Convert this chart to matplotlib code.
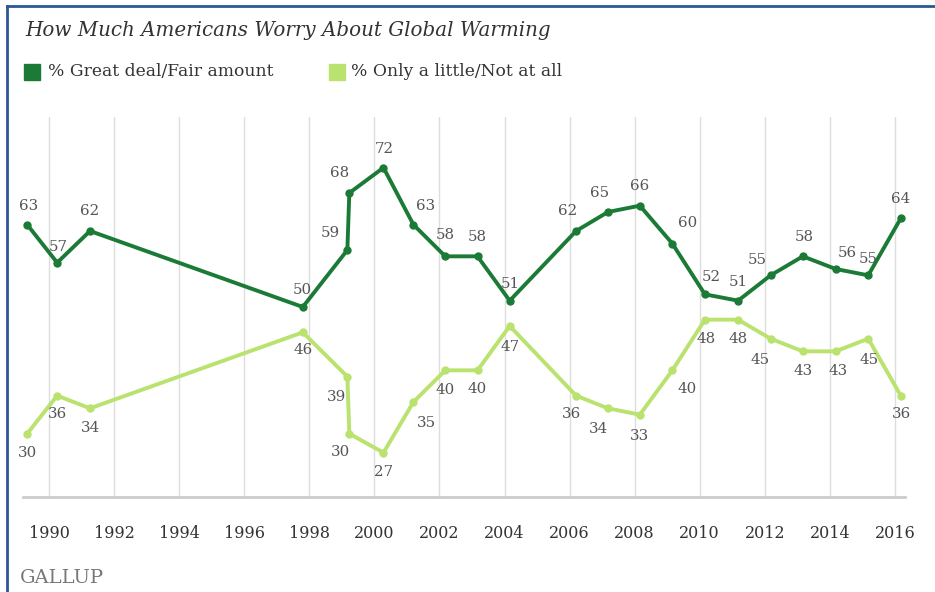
import matplotlib.pyplot as plt
from matplotlib.lines import Line2D
from matplotlib.patches import Rectangle

# Survey dates as fractional years
dates = [1989.33, 1990.25, 1991.26, 1997.80, 1999.17, 1999.23, 2000.28, 2001.20,
         2002.18, 2003.17, 2004.16, 2006.20, 2007.18, 2008.16, 2009.16, 2010.16,
         2011.18, 2012.18, 2013.17, 2014.18, 2015.18, 2016.18]
great_fair = [63, 57, 62, 50, 59, 68, 72, 63, 58, 58, 51, 62, 65, 66, 60, 52,
              51, 55, 58, 56, 55, 64]
little_none = [30, 36, 34, 46, 39, 30, 27, 35, 40, 40, 47, 36, 34, 33, 40, 48,
               48, 45, 43, 43, 45, 36]
tick_years = list(range(1990, 2017, 2))

title = "How Much Americans Worry About Global Warming"
legend_labels = ["% Great deal/Fair amount", "% Only a little/Not at all"]

# label offsets in pixels (dx, dy)
dark_off = [(1, 19), (1, 16), (0, 20), (0, 17), (-17, 17), (-10, 20), (1, 19), (12, 19),
            (0, 21), (0, 19), (1, 17), (-8, 20), (-8, 19), (0, 20), (15, 21), (6, 17),
            (0, 19), (-13, 15), (1, 19), (12, 16), (0, 16), (0, 19)]
light_off = [(0, -19), (0, -18), (0, -20), (0, -18), (-11, -20), (-9, -18), (0, -19), (13, -21),
             (0, -20), (0, -19), (0, -21), (-5, -18), (-9, -21), (0, -21), (15, -19), (1, -19),
             (0, -19), (-11, -21), (0, -20), (2, -20), (1, -21), (1, -18)]

dark = '#1b7a36'
light = '#b9e26e'
serif = 'DejaVu Serif'

fig = plt.figure(figsize=(9.35, 5.92), dpi=100)
ax = fig.add_axes([23 / 935, 95 / 592, 882 / 935, 380 / 592])

ax.plot(dates, little_none, color=light, lw=2.8, marker='o', ms=5, zorder=3)
ax.plot(dates, great_fair, color=dark, lw=2.8, marker='o', ms=5, zorder=4)

for x, y, (dx, dy) in zip(dates, great_fair, dark_off):
    ax.annotate(str(y), (x, y), xytext=(dx, dy), textcoords='offset pixels',
                ha='center', va='center', fontsize=10.8, color='#555555',
                family=serif, zorder=5)
for x, y, (dx, dy) in zip(dates, little_none, light_off):
    ax.annotate(str(y), (x, y), xytext=(dx, dy), textcoords='offset pixels',
                ha='center', va='center', fontsize=10.8, color='#555555',
                family=serif, zorder=5)

ax.set_xlim(1989.2, 2016.31)
ax.set_ylim(20, 80)
ax.set_xticks(tick_years)
ax.set_xticklabels([str(t) for t in tick_years], family=serif, fontsize=11.5, color='#333333')
ax.tick_params(axis='x', length=0, pad=20)
ax.set_yticks([])
for yr in tick_years:
    ax.axvline(yr, color='#dddddd', lw=1, zorder=1)
for s in ['top', 'right', 'left']:
    ax.spines[s].set_visible(False)
ax.spines['bottom'].set_color('#cccccc')
ax.spines['bottom'].set_linewidth(2)

# title and legend
fig.text(25 / 935, 1 - 31 / 592, title, family=serif, style='italic', fontsize=14.3,
         color='#333333', va='center', ha='left')
fig.patches.append(Rectangle((24 / 935, 1 - 80 / 592), 16 / 935, 16 / 592,
                             transform=fig.transFigure, color=dark))
fig.text(48 / 935, 1 - 72 / 592, legend_labels[0], family=serif, fontsize=12.3,
         color='#333333', va='center', ha='left')
fig.patches.append(Rectangle((329 / 935, 1 - 80 / 592), 16 / 935, 16 / 592,
                             transform=fig.transFigure, color=light))
fig.text(351 / 935, 1 - 72 / 592, legend_labels[1], family=serif, fontsize=12.3,
         color='#333333', va='center', ha='left')

fig.text(20 / 935, 1 - 578 / 592, "GALLUP", family=serif, fontsize=14,
         color='#777777', va='center', ha='left')

# blue frame on top and left
fig.lines.append(Line2D([7 / 935, 1], [1 - 6 / 592, 1 - 6 / 592], transform=fig.transFigure,
                        color='#2b5797', lw=2))
fig.lines.append(Line2D([7 / 935, 7 / 935], [0, 1 - 6 / 592], transform=fig.transFigure,
                        color='#2b5797', lw=2))

fig.savefig('out.png', dpi=100)
